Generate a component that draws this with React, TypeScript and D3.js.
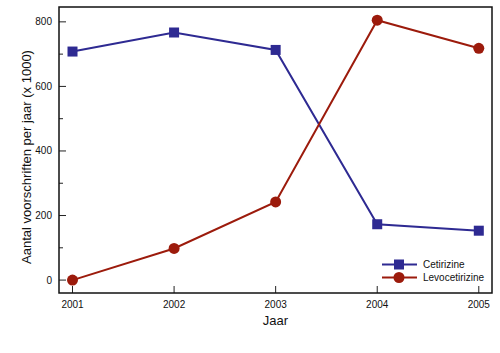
import React, { useEffect, useRef } from 'react';
import * as d3 from 'd3';

const years = [2001, 2002, 2003, 2004, 2005];
const cetirizine = [708, 767, 713, 173, 153];
const levocetirizine = [0, 98, 242, 805, 718];
const yTicks = [0, 200, 400, 600, 800];

const BLUE = '#2e2a92';
const RED = '#9c1b0c';

const App = () => {
  const svgRef = useRef<SVGSVGElement>(null);

  useEffect(() => {
    if (!svgRef.current) return;
    const width = 500;
    const height = 353;
    const m = { left: 59, top: 7, right: 8, bottom: 60 };

    const svg = d3.select(svgRef.current);
    svg.selectAll('*').remove();
    svg.attr('width', width).attr('height', height);

    const x = d3.scaleLinear().domain([2000.867, 2005.13]).range([m.left, width - m.right]);
    const y = d3.scaleLinear().domain([-40, 846]).range([height - m.bottom, m.top]);

    const font = 'Liberation Sans, Arial, sans-serif';
    const g = svg.append('g');

    // ticks (inside)
    yTicks.forEach(v => {
      g.append('line').attr('x1', m.left).attr('x2', m.left + 7)
        .attr('y1', y(v)).attr('y2', y(v)).attr('stroke', '#222').attr('stroke-width', 1);
      g.append('text').attr('x', m.left - 7).attr('y', y(v)).attr('dy', '0.35em')
        .attr('text-anchor', 'end').style('font-family', font).style('font-size', '10px')
        .attr('fill', '#111').text(v);
    });
    d3.range(100, 900, 200).forEach(v => {
      g.append('line').attr('x1', m.left).attr('x2', m.left + 4)
        .attr('y1', y(v)).attr('y2', y(v)).attr('stroke', '#222').attr('stroke-width', 1);
    });
    years.forEach(yr => {
      g.append('line').attr('x1', x(yr)).attr('x2', x(yr))
        .attr('y1', height - m.bottom).attr('y2', height - m.bottom - 7)
        .attr('stroke', '#222').attr('stroke-width', 1);
      g.append('text').attr('x', x(yr)).attr('y', height - m.bottom + 15)
        .attr('text-anchor', 'middle').style('font-family', font).style('font-size', '10px')
        .attr('fill', '#111').text(yr);
    });

    // frame
    g.append('rect').attr('x', m.left).attr('y', m.top)
      .attr('width', width - m.left - m.right).attr('height', height - m.top - m.bottom)
      .attr('fill', 'none').attr('stroke', '#111').attr('stroke-width', 1.5);

    const line = d3.line<number>().x((_, i) => x(years[i])).y(d => y(d));

    g.append('path').datum(cetirizine).attr('d', line)
      .attr('fill', 'none').attr('stroke', BLUE).attr('stroke-width', 2);
    g.append('path').datum(levocetirizine).attr('d', line)
      .attr('fill', 'none').attr('stroke', RED).attr('stroke-width', 2);

    g.selectAll('.sq').data(cetirizine).enter().append('rect')
      .attr('x', (_, i) => x(years[i]) - 5).attr('y', d => y(d) - 5)
      .attr('width', 10).attr('height', 10).attr('fill', BLUE);
    g.selectAll('.ci').data(levocetirizine).enter().append('circle')
      .attr('cx', (_, i) => x(years[i])).attr('cy', d => y(d))
      .attr('r', 5.5).attr('fill', RED);

    // legend
    const legend = [
      { name: 'Cetirizine', color: BLUE, shape: 'square' },
      { name: 'Levocetirizine', color: RED, shape: 'circle' },
    ];
    legend.forEach((d, i) => {
      const ly = 264.5 + i * 13;
      g.append('line').attr('x1', 382).attr('x2', 417).attr('y1', ly).attr('y2', ly)
        .attr('stroke', d.color).attr('stroke-width', 2);
      if (d.shape === 'square') {
        g.append('rect').attr('x', 394).attr('y', ly - 5).attr('width', 10).attr('height', 10)
          .attr('fill', d.color);
      } else {
        g.append('circle').attr('cx', 399).attr('cy', ly).attr('r', 5.5).attr('fill', d.color);
      }
      g.append('text').attr('x', 423).attr('y', ly).attr('dy', '0.35em')
        .style('font-family', font).style('font-size', '10px').attr('fill', '#111').text(d.name);
    });

    // axis titles
    g.append('text').attr('x', (m.left + width - m.right) / 2).attr('y', 325)
      .attr('text-anchor', 'middle').style('font-family', font).style('font-size', '13px')
      .attr('fill', '#111').text('Jaar');
    g.append('text').attr('transform', `translate(31,157) rotate(-90)`)
      .attr('text-anchor', 'middle').style('font-family', font).style('font-size', '13px')
      .attr('fill', '#111').text('Aantal voorschriften per jaar (x 1000)');
  }, []);

  return <svg ref={svgRef} style={{ position: 'absolute', left: 0, top: 0 }}></svg>;
};

export default App;
